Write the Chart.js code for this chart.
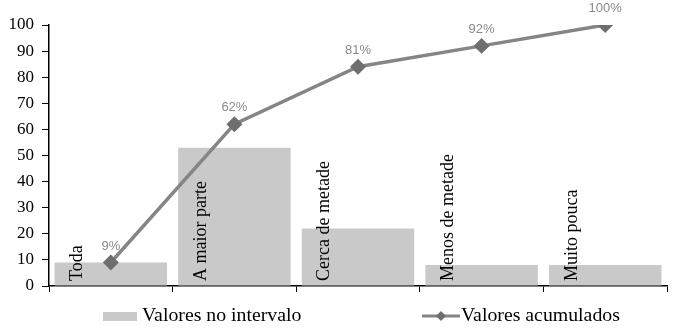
<!DOCTYPE html>
<html>
<head>
<meta charset="utf-8">
<script src="https://cdn.jsdelivr.net/npm/chart.js@4.4.0/dist/chart.umd.min.js"></script>
<style>
  html, body { margin: 0; padding: 0; background: #fff; }
  #wrap { width: 676px; height: 329px; }
</style>
</head>
<body>
<div id="wrap"><canvas id="grafico" width="676" height="329"></canvas></div>
<script>
// Categorias e valores
const categorias = ['Toda', 'A maior parte', 'Cerca de metade', 'Menos de metade', 'Muito pouca'];
const valoresIntervalo = [9, 53, 22, 8, 8];
const valoresAcumulados = [9, 62, 84, 92, 100];
const rotulosAcumulados = ['9%', '62%', '81%', '92%', '100%'];
const ticksY = [0, 10, 20, 30, 40, 50, 60, 70, 80, 90, 100];

const serif = '"Liberation Serif", "DejaVu Serif", serif';
const corBarra = '#c9c9c9';
const corLinha = '#858585';
const corMarcador = '#6e6e6e';

// Rótulos das categorias, na vertical, dentro das barras
const rotulosCategorias = {
    id: 'rotulosCategorias',
    afterDatasetsDraw(chart) {
        const ctx = chart.ctx;
        const meta = chart.getDatasetMeta(0);
        const y = chart.scales.y;
        ctx.save();
        ctx.font = '18px ' + serif;
        ctx.fillStyle = '#000';
        ctx.textAlign = 'left';
        ctx.textBaseline = 'middle';
        meta.data.forEach(function(barra, i) {
            const x = barra.x - barra.width / 2 + 23;
            ctx.save();
            ctx.translate(x, y.bottom - 5);
            ctx.rotate(-Math.PI / 2);
            ctx.fillText(categorias[i], 0, 0);
            ctx.restore();
        });
        ctx.restore();
    }
};

// Percentagens acima dos pontos da linha
const rotulosPontos = {
    id: 'rotulosPontos',
    afterDatasetsDraw(chart) {
        const ctx = chart.ctx;
        const meta = chart.getDatasetMeta(1);
        ctx.save();
        ctx.font = '13px "Liberation Sans", Arial, sans-serif';
        ctx.fillStyle = '#8a8a8a';
        ctx.textAlign = 'center';
        ctx.textBaseline = 'bottom';
        meta.data.forEach(function(p, i) {
            ctx.fillText(rotulosAcumulados[i], p.x, p.y - 10);
        });
        ctx.restore();
    }
};

// Legenda desenhada à mão (linha com losango), texto um pouco esticado
const legenda = {
    id: 'legenda',
    afterDraw(chart) {
        const ctx = chart.ctx;
        const yl = 316;
        ctx.save();
        ctx.fillStyle = corBarra;
        ctx.fillRect(103, yl - 4, 34, 9);

        ctx.strokeStyle = corLinha;
        ctx.lineWidth = 3;
        ctx.beginPath();
        ctx.moveTo(422, yl);
        ctx.lineTo(460, yl);
        ctx.stroke();
        ctx.fillStyle = corMarcador;
        ctx.beginPath();
        ctx.moveTo(441, yl - 5);
        ctx.lineTo(446, yl);
        ctx.lineTo(441, yl + 5);
        ctx.lineTo(436, yl);
        ctx.closePath();
        ctx.fill();

        ctx.font = '18px ' + serif;
        ctx.fillStyle = '#000';
        ctx.textBaseline = 'middle';
        ctx.textAlign = 'left';
        [[chart.data.datasets[0].label, 142], [chart.data.datasets[1].label, 461]].forEach(function(t) {
            ctx.save();
            ctx.translate(t[1], yl);
            ctx.scale(1.1, 1);
            ctx.fillText(t[0], 0, 0);
            ctx.restore();
        });
        ctx.restore();
    }
};

new Chart(document.getElementById('grafico').getContext('2d'), {
    type: 'bar',
    data: {
        labels: categorias,
        datasets: [
            {
                type: 'bar',
                label: 'Valores no intervalo',
                data: valoresIntervalo,
                backgroundColor: corBarra,
                barPercentage: 0.91,
                categoryPercentage: 1.0,
                order: 2
            },
            {
                type: 'line',
                label: 'Valores acumulados',
                data: valoresAcumulados,
                borderColor: corLinha,
                borderWidth: 3.5,
                pointStyle: 'rectRot',
                pointRadius: 5.5,
                pointBackgroundColor: corMarcador,
                pointBorderColor: corMarcador,
                tension: 0,
                order: 1
            }
        ]
    },
    options: {
        responsive: false,
        animation: false,
        layout: { padding: { top: 25, right: 8, left: 0, bottom: 0 } },
        plugins: {
            legend: { display: false },
            tooltip: { enabled: false }
        },
        scales: {
            x: {
                grid: { drawOnChartArea: false, drawTicks: true, tickLength: 6, color: '#000', offset: true },
                border: { color: '#000', width: 1.5 },
                ticks: { callback: function() { return ''; } },
                afterFit: function(scale) { scale.height = 43; }
            },
            y: {
                min: 0,
                max: 100,
                afterBuildTicks: function(scale) { scale.ticks = ticksY.map(function(v) { return { value: v }; }); },
                grid: { drawOnChartArea: false, drawTicks: true, tickLength: 7, color: '#000' },
                border: { color: '#000', width: 1.5 },
                ticks: { color: '#000', font: { family: serif, size: 17 }, padding: 8 },
                afterFit: function(scale) { scale.width = 49; }
            }
        }
    },
    plugins: [rotulosCategorias, rotulosPontos, legenda]
});
</script>
</body>
</html>
